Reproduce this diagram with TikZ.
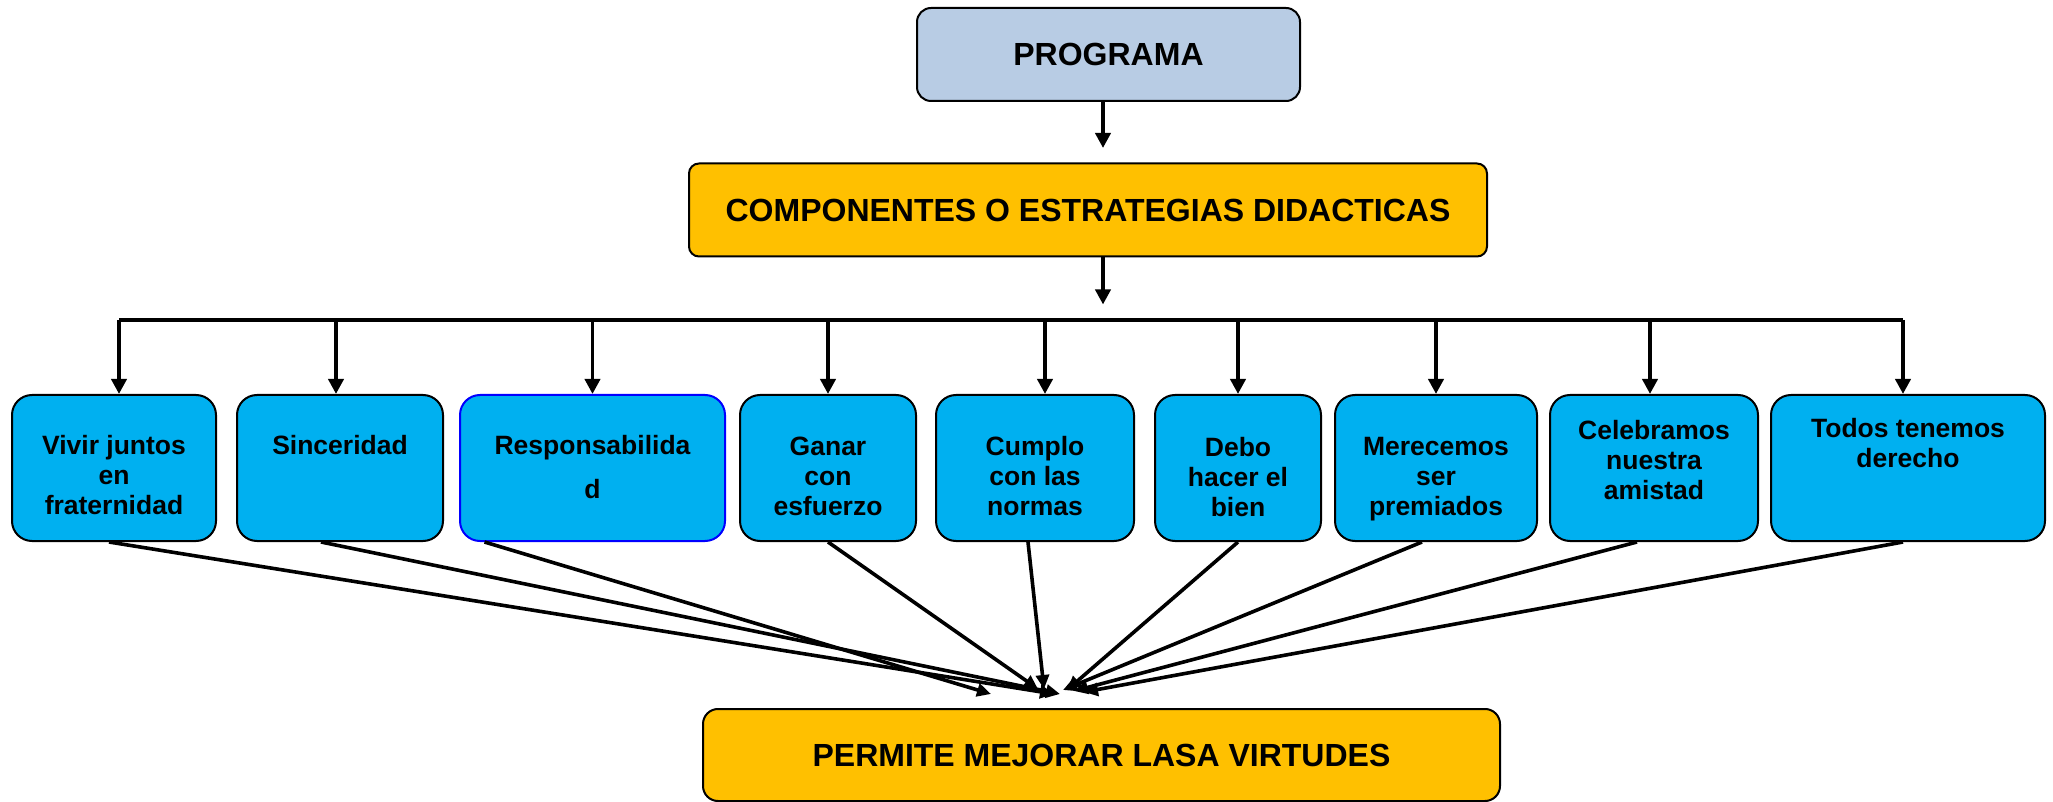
\documentclass[tikz,border=0pt]{standalone}
\usepackage{fontspec}
\setmainfont{Liberation Sans}
\usetikzlibrary{arrows.meta}
\definecolor{progblue}{HTML}{B8CCE4}
\definecolor{compgold}{HTML}{FFC000}
\definecolor{virtcyan}{HTML}{00B0F0}
\begin{document}
\begin{tikzpicture}[x=0.5pt,y=0.5pt]
	\tikzset{bigbox/.style={draw=black, line width=1pt, align=center, font=\fontsize{16}{18}\selectfont\bfseries},
		virtbox/.style={draw=black, line width=1pt, fill=virtcyan, rounded corners=10pt, minimum height=73pt},
		virttxt/.style={anchor=north, inner sep=0pt, align=center, font=\fontsize{13.25}{15}\selectfont\bfseries},
		arr/.style={line width=1.9pt, -{Triangle[length=7.5pt,width=7.5pt]}},
		arrb/.style={line width=1.8pt, -{Triangle[length=7pt,width=6.5pt]}}
	}
	\useasboundingbox (0,0) rectangle (2053,-802);
	\node (prog) at (1108.5,-54.5) [bigbox, fill=progblue, rounded corners=7pt, minimum width=191.5pt, minimum height=46.5pt] {PROGRAMA};
	\node (comp) at (1088,-210) [bigbox, fill=compgold, rounded corners=5pt, minimum width=399pt, minimum height=46.5pt] {COMPONENTES O ESTRATEGIAS DIDACTICAS};
	\node (mejora) at (1101.5,-755) [bigbox, fill=compgold, rounded corners=7.5pt, minimum width=398.5pt, minimum height=46pt] {PERMITE MEJORAR LASA VIRTUDES};

	\node (b1) at (114,-468) [virtbox, minimum width=102pt] {};
	\node (b2) at (340,-468) [virtbox, minimum width=103pt] {};
	\node (b3) at (592.5,-468) [virtbox, draw=blue, minimum width=132.5pt] {};
	\node (b4) at (828,-468) [virtbox, minimum width=88pt] {};
	\node (b5) at (1035,-468) [virtbox, minimum width=99pt] {};
	\node (b6) at (1238,-468) [virtbox, minimum width=83pt] {};
	\node (b7) at (1436,-468) [virtbox, minimum width=101pt] {};
	\node (b8) at (1654,-468) [virtbox, minimum width=104pt] {};
	\node (b9) at (1908,-468) [virtbox, minimum width=137pt] {};

	\node (t1) at (114,-435) [virttxt] {Vivir juntos\\en\\fraternidad};
	\node (t2) at (340,-435) [virttxt] {Sinceridad};
	\node (t3) at (592.5,-435) [virttxt] {Responsabilida\\[7pt]d};
	\node (t4) at (828,-437) [virttxt] {Ganar\\con\\esfuerzo};
	\node (t5) at (1035,-436) [virttxt] {Cumplo\\con las\\normas};
	\node (t6) at (1238,-437) [virttxt] {Debo\\hacer el\\bien};
	\node (t7) at (1436,-437) [virttxt] {Merecemos\\ser\\premiados};
	\node (t8) at (1654,-420) [virttxt] {Celebramos\\nuestra\\amistad};
	\node (t9) at (1908,-418) [virttxt] {Todos tenemos\\derecho};

	\draw[arr] ([xshift=-2.75pt]prog.south) -- ++(0,-46);
	\draw[arr] ([xshift=7.5pt]comp.south) -- ++(0,-47);

	\coordinate (bus) at (0,-320);
	\draw[line width=1.9pt] ([xshift=2.5pt]b1.north |- bus) -- ([xshift=-2.5pt]b9.north |- bus);
	\draw[arr] ([xshift=2.5pt]b1.north |- bus) -- ([xshift=2.5pt]b1.north);
	\draw[arr] ([xshift=-2pt]b2.north |- bus) -- ([xshift=-2pt]b2.north);
	\draw[arr] (b3.north |- bus) -- (b3.north);
	\draw[arr] (b4.north |- bus) -- (b4.north);
	\draw[arr] ([xshift=5pt]b5.north |- bus) -- ([xshift=5pt]b5.north);
	\draw[arr] (b6.north |- bus) -- (b6.north);
	\draw[arr] (b7.north |- bus) -- (b7.north);
	\draw[arr] ([xshift=-2pt]b8.north |- bus) -- ([xshift=-2pt]b8.north);
	\draw[arr] ([xshift=-2.5pt]b9.north |- bus) -- ([xshift=-2.5pt]b9.north);

	\coordinate (e1) at (1054,-694);
	\coordinate (e2) at (1060,-694);
	\coordinate (e3) at (991,-694);
	\coordinate (e4) at (1038,-689);
	\coordinate (e5) at (1044,-689);
	\coordinate (e6) at (1067,-690);
	\coordinate (e7) at (1063,-690);
	\coordinate (e8) at (1074,-691);
	\coordinate (e9) at (1084,-692);
	\draw[arrb] ([xshift=-2.5pt]b1.south) -- (e1);
	\draw[arrb] ([xshift=-9.5pt]b2.south) -- (e2);
	\draw[arrb] ([xshift=-54pt]b3.south) -- (e3);
	\draw[arrb] (b4.south) -- (e4);
	\draw[arrb] ([xshift=-3.5pt]b5.south) -- (e5);
	\draw[arrb] (b6.south) -- (e6);
	\draw[arrb] ([xshift=-7pt]b7.south) -- (e7);
	\draw[arrb] ([xshift=-8.5pt]b8.south) -- (e8);
	\draw[arrb] ([xshift=-2.5pt]b9.south) -- (e9);
\end{tikzpicture}
\end{document}
